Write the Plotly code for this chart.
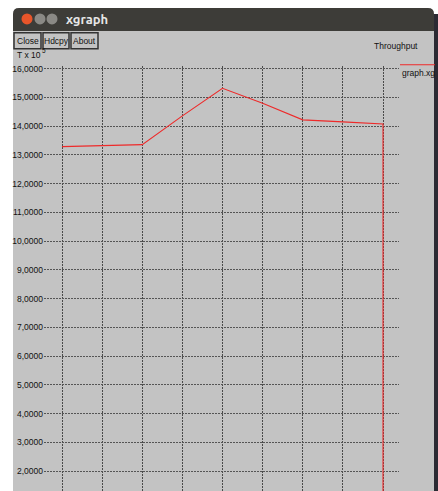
import plotly.graph_objects as go

# ---- data ----
x_vals = [0, 1, 2, 3, 4, 5, 6, 7, 8, 8]
y_vals = [13.29, 13.32, 13.36, 14.36, 15.32, 14.80, 14.22, 14.15, 14.08, 0.0]
y_ticks = [2, 3, 4, 5, 6, 7, 8, 9, 10, 11, 12, 13, 14, 15, 16]
y_ticktext = ["2,0000", "3,0000", "4,0000", "5,0000", "6,0000", "7,0000", "8,0000",
              "9,0000", "10,0000", "11,0000", "12,0000", "13,0000", "14,0000",
              "15,0000", "16,0000"]
x_ticks = [0, 1, 2, 3, 4, 5, 6, 7, 8]
series_name = "graph.xg"
chart_title = "Throughput"

W, H = 438, 491
FONT = "Liberation Sans, Arial, sans-serif"
GRAY = "#c3c3c3"

def px(x):
    return x / W

def py(y):
    return 1 - y / H

fig = go.Figure()
fig.add_trace(go.Scatter(x=x_vals, y=y_vals, mode="lines", name=series_name,
                         line=dict(color="#ee2a2a", width=1.1), showlegend=False))

shapes = []
# window body
shapes.append(dict(type="rect", xref="paper", yref="paper", x0=px(13), x1=px(434),
                   y0=py(491), y1=py(29), fillcolor=GRAY, line=dict(width=0), layer="below"))
# title bar
shapes.append(dict(type="path", xref="paper", yref="paper",
                   path=f"M {px(13)},{py(29)} L {px(13)},{py(12)} Q {px(13)},{py(6)} {px(19)},{py(6)} "
                        f"L {px(428)},{py(6)} Q {px(434)},{py(6)} {px(434)},{py(12)} L {px(434)},{py(29)} Z",
                   fillcolor="#3d3c38", line=dict(width=0), layer="below"))
# right dark border
shapes.append(dict(type="rect", xref="paper", yref="paper", x0=px(434), x1=px(438),
                   y0=py(491), y1=py(12), fillcolor="#2b2a33", line=dict(width=0), layer="below"))
# title bar buttons
for cx, col in [(27, "#e8552a"), (40, "#8a8985"), (52, "#8a8985")]:
    shapes.append(dict(type="circle", xref="paper", yref="paper",
                       x0=px(cx - 5.5), x1=px(cx + 5.5), y0=py(17 + 5.5), y1=py(17 - 5.5),
                       fillcolor=col, line=dict(width=0)))
# xgraph buttons
buttons = [("Close", 14, 41), ("Hdcpy", 43, 69), ("About", 71, 98)]
for label, x0, x1 in buttons:
    shapes.append(dict(type="rect", xref="paper", yref="paper", x0=px(x0), x1=px(x1),
                       y0=py(47), y1=py(31), fillcolor=GRAY,
                       line=dict(color="#333", width=1.5)))
# legend sample line
shapes.append(dict(type="line", xref="paper", yref="paper", x0=px(400), x1=px(435),
                   y0=py(63), y1=py(63), line=dict(color="#ee2a2a", width=1.2)))

annotations = []
annotations.append(dict(text="<b>xgraph</b>", xref="paper", yref="paper", x=px(64), y=py(17),
                        xanchor="left", yanchor="middle", showarrow=False,
                        font=dict(family="Ubuntu, DejaVu Sans, sans-serif", size=13, color="#e6e6e6")))
for label, x0, x1 in buttons:
    annotations.append(dict(text=label, xref="paper", yref="paper", x=px((x0 + x1) / 2), y=py(39.5),
                            xanchor="center", yanchor="middle", showarrow=False,
                            font=dict(family=FONT, size=8.5, color="#111")))
annotations.append(dict(text="T x 10", xref="paper", yref="paper", x=px(15), y=py(53),
                        xanchor="left", yanchor="middle", showarrow=False,
                        font=dict(family=FONT, size=8.5, color="#111")))
annotations.append(dict(text="5", xref="paper", yref="paper", x=px(40), y=py(49),
                        xanchor="left", yanchor="middle", showarrow=False,
                        font=dict(family=FONT, size=6.5, color="#111")))
annotations.append(dict(text=chart_title, xref="paper", yref="paper", x=px(372), y=py(44),
                        xanchor="left", yanchor="middle", showarrow=False,
                        font=dict(family=FONT, size=8.5, color="#111")))
annotations.append(dict(text=series_name, xref="paper", yref="paper", x=px(400), y=py(71),
                        xanchor="left", yanchor="middle", showarrow=False,
                        font=dict(family=FONT, size=8.5, color="#111")))

# axis geometry: vertical grid every 40.125 px starting at x=62, horizontal every 28.86 px with 16 at y=67
x_left, x_right = 44, 399
x_step = 40.125
y_top_px, y_bot_px = 64, 491
y_step = 28.86
x_range = [-(62 - x_left) / x_step, 8 + (x_right - 383) / x_step]
y_range = [2 - (y_bot_px - 471) / y_step, 16 + (67 - y_top_px) / y_step]

fig.update_layout(
    width=W, height=H, margin=dict(l=0, r=0, t=0, b=0),
    paper_bgcolor="white", plot_bgcolor=GRAY,
    shapes=shapes, annotations=annotations, showlegend=False,
    xaxis=dict(domain=[px(x_left), px(x_right)], range=x_range, tickvals=x_ticks,
               showticklabels=False, showgrid=True, gridcolor="#4a4a4a", griddash="2px,1px",
               gridwidth=1, zeroline=False, showline=False, ticks=""),
    yaxis=dict(domain=[0, py(y_top_px)], range=y_range, tickvals=y_ticks, ticktext=y_ticktext,
               showgrid=True, gridcolor="#555", griddash="2px,1px", gridwidth=1,
               zeroline=False, showline=False, ticks="", ticklabelstandoff=0,
               tickfont=dict(family=FONT, size=8.5, color="#111")),
)

fig.write_html("out.html")
